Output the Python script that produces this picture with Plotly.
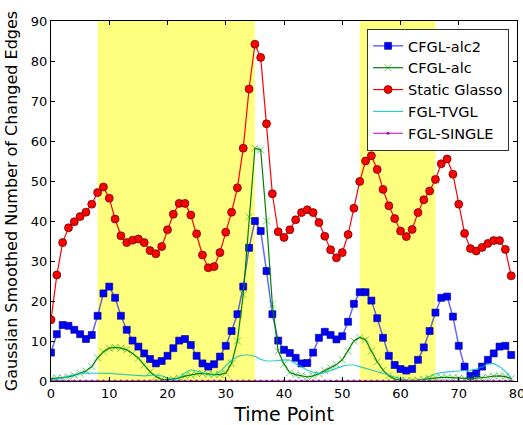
import plotly.graph_objects as go

time_points = list(range(80))

cfgl_alc2 = [7.1, 11.7, 14.0, 13.8, 12.8, 11.7, 10.5, 11.5, 16.3, 21.9,
             23.6, 20.8, 16.3, 12.8, 10.1, 8.6, 6.9, 5.5, 4.4, 5.0,
             6.3, 8.2, 10.1, 10.5, 9.0, 6.3, 4.4, 3.6, 4.2, 6.1,
             8.8, 12.5, 16.7, 23.6, 33.3, 40.0, 37.5, 27.5, 16.7, 10.1,
             7.8, 7.0, 5.8, 4.4, 4.5, 7.1, 10.8, 12.3, 11.5, 10.4,
             11.2, 14.8, 19.3, 22.2, 22.2, 20.1, 15.7, 10.8, 6.3, 4.0,
             3.0, 2.6, 3.0, 5.3, 8.4, 12.5, 17.1, 20.8, 21.1, 16.1,
             8.8, 3.6, 1.3, 1.9, 3.6, 5.3, 6.9, 8.6, 8.8, 6.5]

cfgl_alc = [0.6, 0.7, 0.8, 1.0, 1.4, 1.9, 2.5, 3.6, 5.8, 7.3,
            8.2, 8.4, 8.2, 7.8, 6.9, 5.7, 4.0, 2.3, 1.1, 0.4,
            0.3, 0.5, 0.8, 1.2, 1.5, 1.8, 1.9, 1.7, 1.6, 1.6,
            2.0, 4.4, 10.0, 21.6, 41.0, 58.2, 57.8, 40.0, 19.2, 7.5,
            4.2, 2.1, 1.6, 1.3, 1.0, 1.3, 1.8, 2.6, 3.3, 4.1,
            5.3, 7.5, 10.0, 10.9, 10.3, 7.5, 4.8, 2.7, 1.3, 0.5,
            0.2, 0.1, 0.1, 0.2, 0.4, 0.6, 0.8, 0.9, 0.9, 0.8,
            0.7, 0.6, 0.6, 0.7, 0.8, 1.0, 1.2, 1.3, 1.1, 0.6]

static_glasso = [15.3, 26.5, 34.6, 38.3, 39.8, 41.1, 42.2, 44.2, 47.1, 48.5,
                 45.7, 40.5, 36.3, 34.6, 35.2, 35.5, 34.6, 32.6, 31.8, 33.6,
                 37.8, 41.7, 44.4, 44.4, 41.5, 36.8, 31.5, 28.3, 28.6, 32.1,
                 37.2, 42.2, 48.3, 58.2, 73.0, 84.2, 80.9, 64.3, 46.8, 37.3,
                 35.9, 37.8, 40.3, 42.1, 42.8, 42.1, 39.6, 36.2, 32.8, 30.8,
                 32.1, 36.6, 43.2, 49.9, 55.0, 56.3, 52.9, 47.9, 43.8, 40.6,
                 37.5, 36.1, 37.9, 42.1, 45.3, 47.5, 50.4, 54.3, 55.5, 51.7,
                 44.2, 36.9, 33.1, 32.5, 33.4, 34.4, 35.1, 35.1, 32.9, 26.3]

fgl_tvgl = [0.3, 0.5, 0.8, 1.2, 1.6, 1.9, 2.0, 2.0, 1.9, 1.9,
            1.9, 1.8, 1.7, 1.6, 1.5, 1.4, 1.3, 1.4, 1.5, 1.3,
            0.7, 0.3, 0.8, 2.0, 2.8, 2.5, 2.0, 1.6, 1.5, 2.3,
            3.8, 5.2, 6.1, 6.5, 6.5, 6.2, 5.4, 5.0, 5.0, 5.1,
            5.3, 5.2, 4.4, 3.5, 2.7, 2.2, 1.9, 2.1, 2.7, 3.2,
            3.7, 4.0, 4.0, 3.6, 3.2, 2.8, 2.3, 1.9, 1.5, 1.0,
            0.6, 0.2, 0.0, 0.0, 0.5, 1.2, 1.8, 2.1, 2.3, 2.4,
            2.5, 2.6, 2.7, 3.0, 3.5, 4.2, 4.4, 3.6, 2.4, 0.8]

fgl_single = [0.0] * 80

shaded_regions = [(8, 35), (53, 66)]

x_ticks = [0, 10, 20, 30, 40, 50, 60, 70, 80]
y_ticks = [0, 10, 20, 30, 40, 50, 60, 70, 80, 90]

FONT = "DejaVu Sans"

fig = go.Figure()

fig.add_trace(go.Scatter(
    x=time_points, y=cfgl_alc2, name="CFGL-alc2", mode="lines+markers",
    line=dict(color="rgba(0,0,255,0.6)", width=1.5),
    marker=dict(symbol="square", size=7, color="#0000ff",
                line=dict(color="#000080", width=0.6)),
))
fig.add_trace(go.Scatter(
    x=time_points, y=cfgl_alc, name="CFGL-alc", mode="lines+markers",
    line=dict(color="#008000", width=1.2),
    marker=dict(symbol="x-thin", size=7,
                line=dict(color="rgba(0,160,0,0.55)", width=1)),
))
fig.add_trace(go.Scatter(
    x=time_points, y=static_glasso, name="Static Glasso", mode="lines+markers",
    line=dict(color="#ff0000", width=1.2),
    marker=dict(symbol="circle", size=8, color="#ff0000",
                line=dict(color="#550000", width=0.7)),
))
fig.add_trace(go.Scatter(
    x=time_points, y=fgl_tvgl, name="FGL-TVGL", mode="lines",
    line=dict(color="rgba(0,191,191,0.8)", width=1.2),
))
fig.add_trace(go.Scatter(
    x=time_points, y=fgl_single, name="FGL-SINGLE", mode="lines+markers",
    line=dict(color="#bf00bf", width=1),
    marker=dict(symbol="circle", size=3, color="#bf00bf"),
))

for x0, x1 in shaded_regions:
    fig.add_shape(type="rect", xref="x", yref="paper", x0=x0, x1=x1, y0=0, y1=1,
                  fillcolor="rgba(255,255,0,0.5)", line=dict(width=0), layer="below")

axis_common = dict(
    showline=True, linecolor="black", linewidth=1, mirror="allticks",
    ticks="inside", ticklen=4, tickwidth=1, tickcolor="black",
    showgrid=False, zeroline=False, automargin=False,
    ticklabeloverflow="allow",
    tickfont=dict(family=FONT, size=13, color="black"),
)

fig.update_xaxes(range=[0, 80], tickvals=x_ticks,
                 title=dict(text="Time Point", font=dict(family=FONT, size=19, color="black"), standoff=10),
                 **axis_common)
fig.update_yaxes(range=[0, 90], tickvals=y_ticks,
                 title=dict(text="Gaussian Smoothed Number of Changed Edges",
                            font=dict(family=FONT, size=16, color="black"), standoff=9),
                 **axis_common)

fig.update_layout(
    width=523, height=425, autosize=False,
    margin=dict(l=51, r=6, t=21, b=44),
    plot_bgcolor="white", paper_bgcolor="white",
    font=dict(family=FONT, color="black"),
    legend=dict(x=0.983, y=0.978, xanchor="right", yanchor="top",
                bgcolor="white", bordercolor="#333333", borderwidth=1,
                font=dict(family=FONT, size=14.5, color="black"),
                tracegroupgap=0),
)

fig.write_html("out.html", config={"displayModeBar": False},
               post_script="document.body.style.margin='0';")
